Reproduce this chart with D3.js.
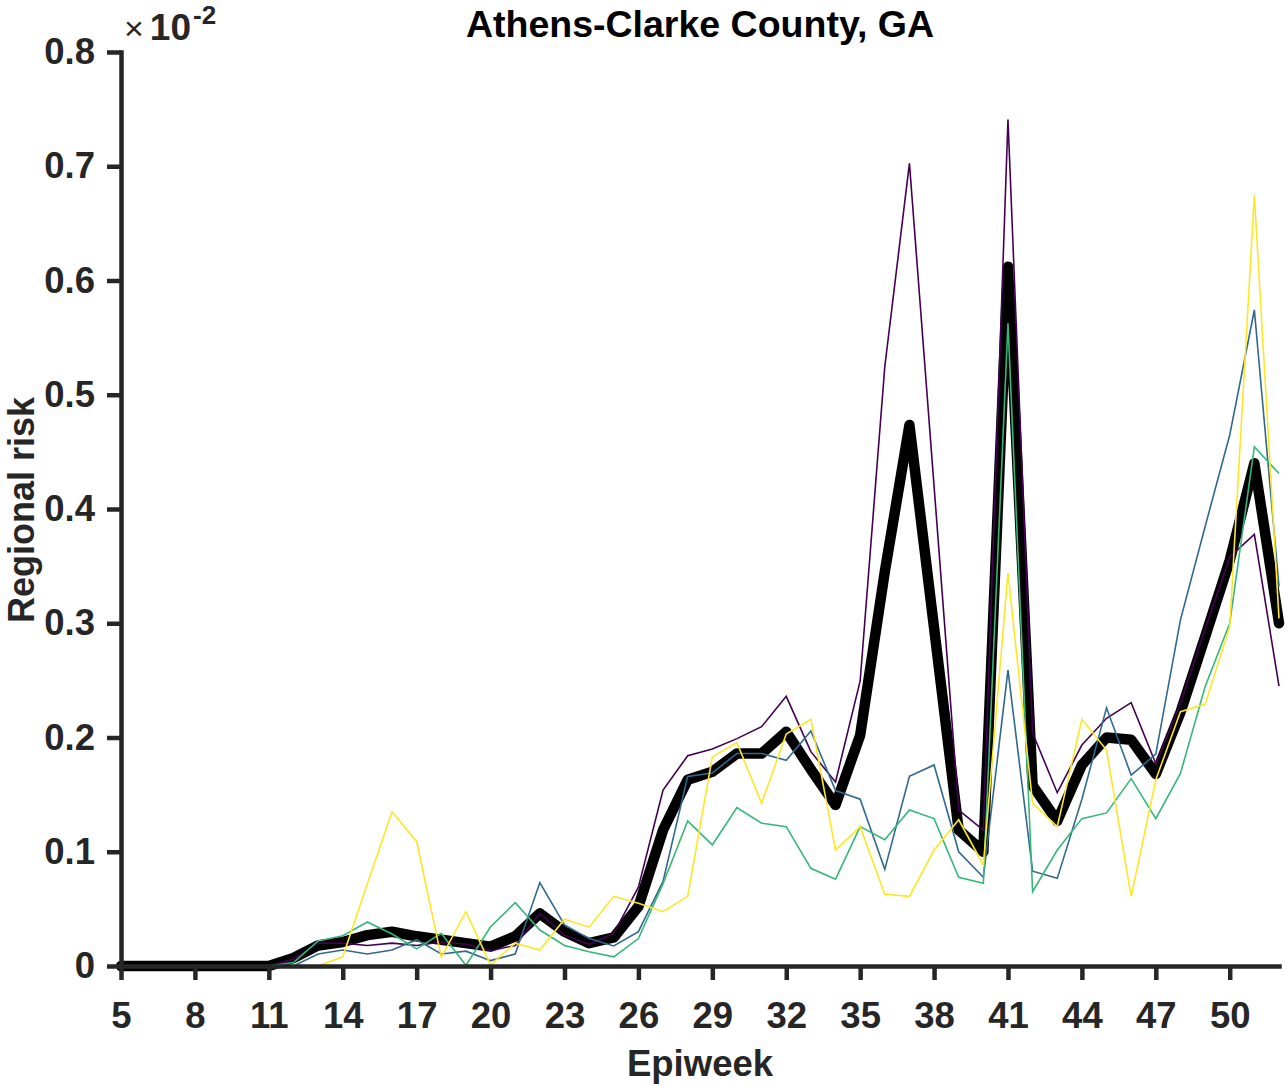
<!DOCTYPE html>
<html>
<head>
<meta charset="utf-8">
<script src="https://cdn.jsdelivr.net/npm/d3@7"></script>
<style>
  html, body { margin: 0; padding: 0; background: #fff; }
  svg { display: block; }
  text { font-family: "Liberation Sans", Arial, Helvetica, sans-serif; }
</style>
</head>
<body>
<svg id="chart" width="1288" height="1086"></svg>
<script>
// ---- data (values in units of 10^-2) ----
const weeks = d3.range(5, 53);
const xTickValues = [5, 8, 11, 14, 17, 20, 23, 26, 29, 32, 35, 38, 41, 44, 47, 50];
const yTickValues = [0, 0.1, 0.2, 0.3, 0.4, 0.5, 0.6, 0.7, 0.8];
const titleText = "Athens-Clarke County, GA";
const xLabel = "Epiweek";
const yLabel = "Regional risk";

const meanRisk = [0, 0, 0, 0, 0, 0, 0, 0.007, 0.018, 0.021, 0.027, 0.030, 0.026, 0.023, 0.020, 0.017,
  0.026, 0.046, 0.030, 0.020, 0.025, 0.052, 0.119, 0.163, 0.170, 0.186, 0.186, 0.205, 0.172, 0.141,
  0.202, 0.345, 0.4735, 0.296, 0.119, 0.100, 0.612, 0.158, 0.127, 0.176, 0.200, 0.198, 0.168, 0.222,
  0.288, 0.355, 0.440, 0.300];
const purpleRisk = [0, 0, 0, 0, 0, 0, 0, 0.006, 0.020, 0.020, 0.018, 0.020, 0.018, 0.021, 0.019, 0.0134,
  0.018, 0.046, 0.027, 0.019, 0.0286, 0.069, 0.154, 0.184, 0.190, 0.199, 0.2095, 0.236, 0.1876, 0.161,
  0.2495, 0.5245, 0.7026, 0.420, 0.1365, 0.119, 0.741, 0.204, 0.1517, 0.1934, 0.2168, 0.2305, 0.177, 0.230,
  0.295, 0.358, 0.3778, 0.245];
const blueRisk = [0, 0, 0, 0, 0, 0, 0, 0, 0.0105, 0.014, 0.0105, 0.014, 0.023, 0.0105, 0.013, 0.0047,
  0.0105, 0.073, 0.036, 0.024, 0.0175, 0.030, 0.074, 0.166, 0.169, 0.186, 0.186, 0.180, 0.2057, 0.1535,
  0.146, 0.0846, 0.166, 0.176, 0.100, 0.0776, 0.259, 0.083, 0.0767, 0.146, 0.226, 0.167, 0.1855, 0.303,
  0.3845, 0.4648, 0.5742, 0.332];
const greenRisk = [0, 0, 0, 0, 0, 0, 0, 0.003, 0.022, 0.0265, 0.0385, 0.028, 0.015, 0.0286, 0.0006, 0.0344,
  0.0554, 0.0315, 0.018, 0.0125, 0.008, 0.024, 0.072, 0.127, 0.106, 0.1386, 0.125, 0.122, 0.0855, 0.076,
  0.122, 0.1106, 0.1365, 0.129, 0.0776, 0.0724, 0.5625, 0.065, 0.1015, 0.129, 0.134, 0.164, 0.129, 0.1686,
  0.2445, 0.300, 0.4545, 0.431];
const yellowRisk = [0, 0, 0, 0, 0, 0, 0, 0, 0, 0.008, 0.072, 0.135, 0.109, 0.0076, 0.0475, 0.001,
  0.020, 0.014, 0.041, 0.034, 0.061, 0.055, 0.0475, 0.061, 0.183, 0.1955, 0.1424, 0.203, 0.216, 0.1015,
  0.122, 0.0627, 0.061, 0.1015, 0.128, 0.0884, 0.344, 0.1424, 0.122, 0.216, 0.189, 0.061, 0.163, 0.2226,
  0.229, 0.297, 0.6745, 0.3043];

const seriesColors = ["#440154", "#31688e", "#35b779", "#fde725"];
const thinSeries = [purpleRisk, blueRisk, greenRisk, yellowRisk];

// ---- layout ----
const svg = d3.select("#chart");
const axisColor = "#262626";
const x = d3.scaleLinear().domain([5, 52]).range([121, 1279]);
const y = d3.scaleLinear().domain([0, 0.8]).range([966, 52]);

const line = d3.line().x((d, i) => x(weeks[i])).y(d => y(d));

// mean (thick black) first
svg.append("path")
  .datum(meanRisk)
  .attr("d", line)
  .attr("fill", "none")
  .attr("stroke", "#000")
  .attr("stroke-width", 10.5)
  .attr("stroke-linejoin", "round")
  .attr("stroke-linecap", "round");

thinSeries.forEach((s, k) => {
  svg.append("path")
    .datum(s)
    .attr("d", line)
    .attr("fill", "none")
    .attr("stroke", seriesColors[k])
    .attr("stroke-width", 1.6)
    .attr("stroke-linejoin", "miter");
});

// ---- axes ----
const xAxis = d3.axisBottom(x).tickValues(xTickValues).tickSize(14).tickSizeOuter(0).tickPadding(22)
  .tickFormat(d3.format("d"));
const gx = svg.append("g").attr("transform", "translate(0,966)").call(xAxis);

const yAxis = d3.axisLeft(y).tickValues(yTickValues).tickSize(14).tickSizeOuter(0).tickPadding(12)
  .tickFormat(d => d === 0 ? "0" : d3.format(".1f")(d));
const gy = svg.append("g").attr("transform", "translate(121,0)").call(yAxis);

[gx, gy].forEach(g => {
  g.select(".domain").attr("stroke", axisColor).attr("stroke-width", 4.5).attr("stroke-linecap", "square");
  g.selectAll(".tick line").attr("stroke", axisColor).attr("stroke-width", 4.5);
  g.selectAll(".tick text")
    .attr("fill", axisColor)
    .style("font-family", '"Liberation Sans", Arial, Helvetica, sans-serif')
    .style("font-weight", "bold")
    .style("font-size", "36.5px");
});
gx.selectAll(".tick text").attr("dy", "0.71em");

// ---- titles ----
svg.append("text")
  .attr("x", 700).attr("y", 37)
  .attr("text-anchor", "middle")
  .style("font-weight", "bold").style("font-size", "37.5px")
  .attr("fill", "#000")
  .text(titleText);

svg.append("text")
  .attr("x", 700).attr("y", 1076)
  .attr("text-anchor", "middle")
  .style("font-weight", "bold").style("font-size", "36.5px")
  .attr("fill", axisColor)
  .text(xLabel);

svg.append("text")
  .attr("transform", "translate(34,510) rotate(-90)")
  .attr("text-anchor", "middle")
  .style("font-weight", "bold").style("font-size", "36px")
  .attr("fill", axisColor)
  .text(yLabel);

// exponent label
const expo = svg.append("text").attr("x", 124).attr("y", 40).attr("fill", axisColor);
expo.append("tspan").style("font-size", "34px").style("font-weight", "normal").text("\u00d7");
expo.append("tspan").attr("dx", 6).style("font-size", "37px").style("font-weight", "bold").text("10");
expo.append("tspan").attr("dy", -16).attr("dx", 2).style("font-size", "26px").style("font-weight", "bold").text("-2");
</script>
</body>
</html>
